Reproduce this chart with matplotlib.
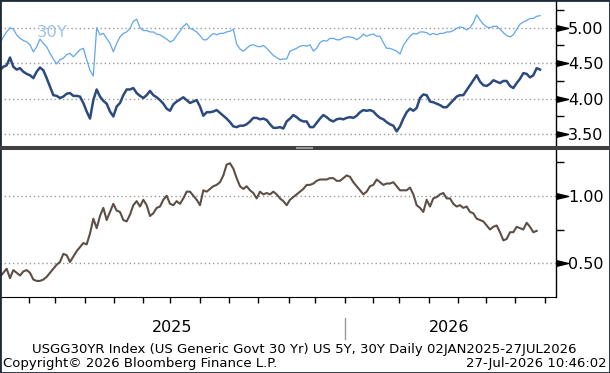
import matplotlib
matplotlib.use("Agg")
import matplotlib.pyplot as plt
import numpy as np
from matplotlib.lines import Line2D
from matplotlib.patches import Rectangle

# Values, one point every ~2-3 sessions, 02JAN2025 - 27JUL2026
us30y = [4.78, 4.87, 4.94, 5.00, 4.98, 4.90, 4.85, 4.82, 4.80, 4.76,
         4.66, 4.73, 4.84, 4.78, 4.73, 4.64, 4.56, 4.49, 4.55, 4.57,
         4.62, 4.64, 4.59, 4.64, 4.69, 4.71, 4.55, 4.40, 4.32, 5.00,
         4.90, 4.92, 4.85, 4.78, 4.66, 4.78, 4.87, 4.92, 4.94, 4.99,
         5.09, 5.12, 5.00, 4.96, 4.96, 4.94, 4.94, 4.91, 4.90, 4.87,
         4.84, 4.80, 4.82, 4.89, 4.95, 5.02, 5.06, 4.99, 4.97, 4.94,
         4.89, 4.83, 4.83, 4.88, 4.92, 4.90, 4.92, 4.92, 4.94, 4.95,
         4.98, 4.77, 4.70, 4.67, 4.71, 4.75, 4.76, 4.74, 4.73, 4.75,
         4.71, 4.66, 4.61, 4.58, 4.55, 4.56, 4.56, 4.67, 4.69, 4.71,
         4.74, 4.75, 4.74, 4.76, 4.67, 4.71, 4.79, 4.82, 4.81, 4.85,
         4.85, 4.83, 4.83, 4.86, 4.87, 4.87, 4.86, 4.83, 4.86, 4.91,
         4.88, 4.90, 4.91, 4.88, 4.88, 4.79, 4.71, 4.71, 4.69, 4.67,
         4.63, 4.75, 4.82, 4.88, 4.92, 4.91, 4.94, 4.94, 4.93, 4.90,
         4.92, 4.90, 4.92, 4.92, 4.94, 4.94, 4.96, 4.99, 5.01, 5.00,
         4.97, 5.00, 5.07, 5.18, 5.11, 5.05, 5.01, 5.00, 5.02, 5.02,
         4.98, 4.93, 4.89, 4.87, 4.90, 4.98, 5.05, 5.08, 5.10, 5.13,
         5.13, 5.16, 5.17]

us5y = [4.40, 4.45, 4.47, 4.58, 4.45, 4.41, 4.43, 4.38, 4.35, 4.33,
        4.29, 4.38, 4.44, 4.40, 4.29, 4.17, 4.05, 4.04, 4.01, 4.03,
        4.07, 4.08, 4.04, 4.04, 4.03, 3.94, 3.82, 3.72, 3.98, 4.13,
        4.03, 3.97, 3.93, 3.82, 3.75, 3.89, 3.94, 4.05, 4.13, 4.13,
        4.15, 4.08, 4.04, 4.01, 4.05, 4.11, 4.05, 4.02, 3.98, 3.93,
        3.86, 3.83, 3.92, 3.96, 3.99, 4.02, 3.98, 3.94, 3.96, 3.98,
        3.89, 3.76, 3.81, 3.81, 3.82, 3.84, 3.80, 3.76, 3.72, 3.67,
        3.61, 3.60, 3.62, 3.62, 3.64, 3.68, 3.73, 3.73, 3.71, 3.72,
        3.70, 3.64, 3.59, 3.59, 3.60, 3.58, 3.68, 3.72, 3.77, 3.74,
        3.70, 3.68, 3.68, 3.60, 3.60, 3.66, 3.72, 3.77, 3.74, 3.70,
        3.68, 3.71, 3.72, 3.71, 3.73, 3.74, 3.73, 3.76, 3.81, 3.84,
        3.83, 3.84, 3.82, 3.77, 3.73, 3.71, 3.67, 3.64, 3.62, 3.54,
        3.61, 3.72, 3.81, 3.86, 3.83, 3.87, 4.01, 4.06, 4.05, 3.96,
        3.95, 3.93, 3.91, 3.88, 3.88, 3.93, 3.98, 4.03, 4.05, 4.05,
        4.12, 4.19, 4.26, 4.33, 4.24, 4.19, 4.18, 4.21, 4.26, 4.24,
        4.22, 4.25, 4.25, 4.18, 4.15, 4.22, 4.28, 4.36, 4.35, 4.30,
        4.33, 4.43, 4.41]

# 30Y - 5Y spread
spread = [0.40, 0.43, 0.46, 0.39, 0.45, 0.43, 0.41, 0.44, 0.45, 0.43,
          0.38, 0.37, 0.37, 0.38, 0.40, 0.43, 0.46, 0.49, 0.51, 0.57,
          0.56, 0.51, 0.55, 0.59, 0.62, 0.65, 0.64, 0.72, 0.83, 0.76,
          0.85, 0.91, 0.82, 0.88, 0.94, 0.89, 0.88, 0.82, 0.81, 0.86,
          0.93, 0.96, 0.92, 0.97, 0.93, 0.85, 0.87, 0.91, 0.92, 0.97,
          1.00, 0.94, 0.93, 0.96, 0.94, 0.98, 1.03, 1.03, 1.00, 0.97,
          0.93, 1.04, 1.03, 1.05, 1.07, 1.08, 1.10, 1.15, 1.23, 1.24,
          1.20, 1.13, 1.07, 1.05, 1.07, 1.04, 1.02, 0.98, 1.03, 1.01,
          1.02, 1.01, 1.03, 1.01, 0.98, 0.96, 0.93, 0.97, 0.99, 1.01,
          1.03, 1.05, 1.08, 1.08, 1.09, 1.11, 1.12, 1.12, 1.12, 1.13,
          1.13, 1.11, 1.11, 1.13, 1.15, 1.14, 1.10, 1.07, 1.04, 1.01,
          1.03, 1.07, 1.08, 1.12, 1.10, 1.08, 1.09, 1.09, 1.10, 1.07,
          1.04, 1.04, 1.04, 1.06, 1.01, 0.93, 0.91, 0.88, 0.97, 0.92,
          0.98, 0.99, 1.01, 1.02, 0.98, 0.98, 0.94, 0.92, 0.93, 0.91,
          0.92, 0.88, 0.87, 0.83, 0.82, 0.81, 0.78, 0.75, 0.77, 0.78,
          0.73, 0.67, 0.68, 0.73, 0.73, 0.77, 0.76, 0.75, 0.80, 0.77,
          0.73, 0.74]

# month starts, in sample units
month_ticks = [8.79, 16.59, 25.41, 34.11, 42.81, 51.09, 60.09, 68.79, 77.49,
               86.7, 94.5, 103.5, 111.81, 119.79, 128.7, 137.31, 145.8,
               154.5, 163.5]
top_major = [3.50, 4.00, 4.50, 5.00]
top_minor = [3.75, 4.25, 4.75, 5.25]
bot_major = [0.50, 1.00]
bot_minor = [0.75, 1.25]

W, H = 610, 373
fig = plt.figure(figsize=(W / 100, H / 100), dpi=100)


def px_axes(x0, y0, x1, y1):
    return fig.add_axes([x0 / W, 1 - y1 / H, (x1 - x0) / W, (y1 - y0) / H])


ax1 = px_axes(0, 1, 555.5, 147)
ax2 = px_axes(0, 150, 555.5, 297)

ax1.plot(np.arange(len(us30y)), us30y, color='#62a6ec', lw=0.9)
ax1.plot(np.arange(len(us5y)), us5y, color='#2c4a7c', lw=1.8)
ax2.plot(np.arange(len(spread)), spread, color='#5b4f47', lw=1.5)

ax1.set_ylim(3.32, 5.376)
ax2.set_ylim(0.251, 1.338)

tri = [(0, -1), (4.2, 0), (0, 1)]
for ax, major, minor in [(ax1, top_major, top_minor), (ax2, bot_major, bot_minor)]:
    ax.set_xlim(0, 166.65)
    ax.yaxis.tick_right()
    ax.set_yticks(major)
    ax.set_yticks(minor, minor=True)
    ax.set_yticklabels(["%.2f" % v for v in major])
    ax.tick_params(axis='y', which='major', length=0, pad=9, labelsize=11.5)
    ax.tick_params(axis='y', which='minor', length=6, width=1, color='black', direction='out')
    ax.yaxis.grid(True, which='major', color='#9a9a9a', linestyle=(0, (1, 2)), lw=1)
    ax.xaxis.grid(False)
    for s in ['left', 'top']:
        ax.spines[s].set_visible(False)
    ax.spines['right'].set_color('black')
    ax.spines['right'].set_linewidth(1)
    ax.plot(np.ones(len(major)), major, linestyle='none', marker=tri, ms=17.3,
            color='black', transform=ax.get_yaxis_transform(), clip_on=False)

ax1.spines['bottom'].set_visible(False)
ax1.set_xticks([])
ax2.spines['bottom'].set_color('black')
ax2.set_xticks(month_ticks)
ax2.set_xticklabels([])
ax2.tick_params(axis='x', length=4, width=1, color='black', direction='out')

ax1.text(37 / 555.5, 1 - 36 / 146, "30Y", transform=ax1.transAxes,
         fontsize=11.8, color='#9fc3ea', va='baseline', ha='left')

# panel separator
fig.add_artist(Line2D([0, 1], [1 - 148 / H] * 2, lw=2.9, color='#404040'))
fig.add_artist(Line2D([297 / W, 312 / W], [1 - 148 / H] * 2, lw=1.5, color='#9a9a9a'))

# year labels
fig.text(172 / W, 1 - 327 / H, "2025", ha='center', va='center', fontsize=11.5)
fig.text(449 / W, 1 - 327 / H, "2026", ha='center', va='center', fontsize=11.5)
fig.add_artist(Line2D([345 / W] * 2, [1 - 318 / H, 1 - 339 / H], lw=1, color='#9a9a9a'))

fig.text(304 / W, 1 - 349 / H,
         "USGG30YR Index (US Generic Govt 30 Yr) US 5Y, 30Y Daily 02JAN2025-27JUL2026",
         ha='center', va='center', fontsize=9.5)
fig.text(3 / W, 1 - 364 / H, "Copyright\u00a9 2026 Bloomberg Finance L.P.",
         ha='left', va='center', fontsize=9.5)
fig.text(607 / W, 1 - 364 / H, "27-Jul-2026 10:46:02", ha='right', va='center', fontsize=9.5)

fig.add_artist(Rectangle((0, 0), 1, 1, transform=fig.transFigure, fill=False,
                         ec='#1e2b3a', lw=2))

fig.savefig("out.png", dpi=100)
